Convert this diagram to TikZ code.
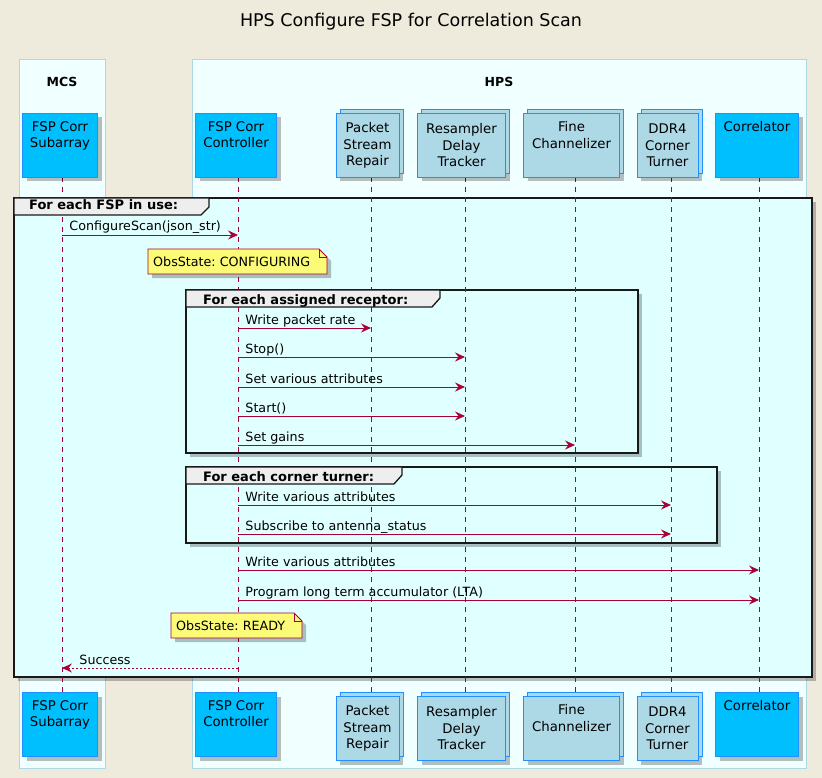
\documentclass[tikz,border=0pt]{standalone}
\usepackage{fontspec}
\setmainfont{DejaVu Sans}
\usetikzlibrary{arrows.meta,shadows}
\frenchspacing

\definecolor{fondo}{HTML}{EEEBDC}
\definecolor{azur}{HTML}{F0FFFF}
\definecolor{celeste}{HTML}{ADD8E6}
\definecolor{cianClaro}{HTML}{E0FFFF}
\definecolor{cielo}{HTML}{00BFFF}
\definecolor{bordeAzul}{HTML}{1E90FF}
\definecolor{granate}{HTML}{A80036}
\definecolor{notaAmarilla}{HTML}{FBFB77}
\definecolor{pestana}{HTML}{EEEEEE}

\newcommand{\coordSecuencia}{
\coordinate (sub) at (62,0);
\coordinate (ctl) at (238,0);
\coordinate (psr) at (371,0);
\coordinate (rdt) at (465,0);
\coordinate (fch) at (575,0);
\coordinate (ddr) at (671,0);
\coordinate (cor) at (759,0);
}
\newcommand{\gruposSecuencia}{
\fill[fondo] (0,0) rectangle (822,778);
\draw[grupo] (19,59) rectangle (105,768);
\draw[grupo] (192,59) rectangle (806,768);
\node[tituloGrupo] (mcs) at (62,87) {MCS};
\node[tituloGrupo] (hps) at (499,87) {HPS};
}
\newcommand{\marcosSecuencia}{
\draw[marco] (14,198) rectangle (812,677);
\draw[marco] (186,290) rectangle (638,453);
\draw[marco] (186,467) rectangle (717,543);
}
\newcommand{\vidasSecuencia}{
\foreach \n in {sub,ctl,psr,rdt,fch,ddr,cor}{
\draw[vida] (\n |- 0,177) -- (\n |- 0,692);
}
}
\newcommand{\pestanasSecuencia}{
\filldraw[pestanaForma] (14,198) -- (209,198) -- (209,207) -- (201,215) -- (14,215) -- cycle;
\filldraw[pestanaForma] (186,290) -- (440,290) -- (440,298) -- (432,307) -- (186,307) -- cycle;
\filldraw[pestanaForma] (186,467) -- (402,467) -- (402,475) -- (394,484) -- (186,484) -- cycle;
\node[pestanaTexto] (bucleFsp) at (29,210) {For each FSP in use:};
\node[pestanaTexto] (bucleRec) at (203,304) {For each assigned receptor:};
\node[pestanaTexto] (bucleCt) at (203,481) {For each corner turner:};
}
\newcommand{\participantesSecuencia}{
\foreach \n/\w/\t in {sub/75/{FSP Corr\\Subarray\\\strut},ctl/81/{FSP Corr\\Controller\\\strut},cor/83/{Correlator\\\strut\\\strut}}{
\node[participante,minimum width=\w pt] (\n1) at ([xshift=-2pt]\n |- 0,113) {\t};
\node[participante,minimum width=\w pt] (\n2) at ([xshift=-2pt]\n |- 0,692) {\t};
}
\foreach \n/\w/\t in {psr/63/{Packet\\Stream\\Repair},rdt/88/{Resampler\\Delay\\Tracker},fch/96/{Fine\\Channelizer\\\strut},ddr/61/{DDR4\\Corner\\Turner}}{
\node[participanteMulti,minimum width=\w pt] (\n1) at ([xshift=-3.5pt]\n |- 0,113) {\t};
\node[participanteMulti,minimum width=\w pt] (\n2) at ([xshift=-3.5pt]\n |- 0,696) {\t};
}
}
\newcommand{\mensajesSecuencia}{
\draw[mensaje] (sub |- 0,235) -- node[textoMsj]{ConfigureScan(json\_str)} (ctl |- 0,235);
\draw[mensaje] (ctl |- 0,328) -- node[textoMsj]{Write packet rate} (psr |- 0,328);
\draw[mensaje] (ctl |- 0,357) -- node[textoMsj]{Stop()} (rdt |- 0,357);
\draw[mensaje] (ctl |- 0,387) -- node[textoMsj]{Set various attributes} (rdt |- 0,387);
\draw[mensaje] (ctl |- 0,416) -- node[textoMsj]{Start()} (rdt |- 0,416);
\draw[mensaje] (ctl |- 0,445) -- node[textoMsj]{Set gains} (fch |- 0,445);
\draw[mensaje] (ctl |- 0,505) -- node[textoMsj]{Write various attributes} (ddr |- 0,505);
\draw[mensaje] (ctl |- 0,534) -- node[textoMsj]{Subscribe to antenna\_status} (ddr |- 0,534);
\draw[mensaje] (ctl |- 0,570) -- node[textoMsj]{Write various attributes} (cor |- 0,570);
\draw[mensaje] (ctl |- 0,600) -- node[textoMsj]{Program long term accumulator (LTA)} (cor |- 0,600);
\draw[respuesta] (ctl |- 0,668) -- node[textoResp]{Success} (sub |- 0,668);
}
\newcommand{\notasSecuencia}{
\filldraw[notaForma] (148,249) -- (319,249) -- (327,257) -- (327,274) -- (148,274) -- cycle;
\draw[notaPliegue] (319,249) |- (327,257);
\node[notaTexto] (notaConf) at (153,266) {ObsState: CONFIGURING};
\filldraw[notaForma] (171,613) -- (294,613) -- (302,621) -- (302,638) -- (171,638) -- cycle;
\draw[notaPliegue] (294,613) |- (302,621);
\node[notaTexto] (notaListo) at (176,630) {ObsState: READY};
}
\tikzset{
sombra/.style={drop shadow={shadow xshift=4pt,shadow yshift=-4pt,fill=black,opacity=.25}},
grupo/.style={draw=celeste,fill=azur,line width=0.8pt},
tituloGrupo/.style={anchor=base,inner sep=0pt,font=\bfseries\fontsize{12.5}{15}\selectfont},
titulo/.style={anchor=base,inner sep=0pt,font=\fontsize{17.5}{20}\selectfont},
marco/.style={draw=black!90,line width=1.8pt,fill=cianClaro,sombra},
pestanaForma/.style={draw=black!90,line width=1.3pt,fill=pestana},
pestanaTexto/.style={anchor=base west,inner sep=0pt,font=\bfseries\fontsize{13}{15}\selectfont},
participante/.style={anchor=north,draw=bordeAzul,fill=cielo,line width=1pt,minimum height=64pt,inner sep=0pt,align=center,font=\fontsize{13.3}{16.5}\selectfont,sombra},
participanteMulti/.style={participante,fill=celeste,copy shadow={shadow xshift=4pt,shadow yshift=4pt,fill=celeste,draw=bordeAzul,line width=1pt}},
vida/.style={draw=granate,line width=0.9pt,dash pattern=on 5pt off 5pt},
mensaje/.style={draw=granate,line width=0.9pt,-{Stealth[length=10pt,width=9pt,inset=3.5pt]}},
respuesta/.style={mensaje,dash pattern=on 2pt off 2pt},
textoMsj/.style={pos=0,anchor=base west,xshift=7pt,yshift=4pt,inner sep=0pt,font=\fontsize{12.7}{15}\selectfont},
textoResp/.style={pos=1,anchor=base west,xshift=17pt,yshift=4pt,inner sep=0pt,font=\fontsize{12.7}{15}\selectfont},
notaTexto/.style={anchor=base west,inner sep=0pt,font=\fontsize{12.7}{15}\selectfont},
notaForma/.style={draw=granate,fill=notaAmarilla,line width=0.8pt,sombra},
notaPliegue/.style={draw=granate,line width=0.8pt}
}

\begin{document}
\begin{tikzpicture}[x=1pt,y=-1pt]
    \useasboundingbox (0,0) rectangle (822,778);
    \coordSecuencia
    \gruposSecuencia
    \marcosSecuencia
    \vidasSecuencia
    \pestanasSecuencia

    \node[titulo] (titulo) at (411,27) {HPS Configure FSP for Correlation Scan};
    \participantesSecuencia
    \mensajesSecuencia
    \notasSecuencia
\end{tikzpicture}
\end{document}
